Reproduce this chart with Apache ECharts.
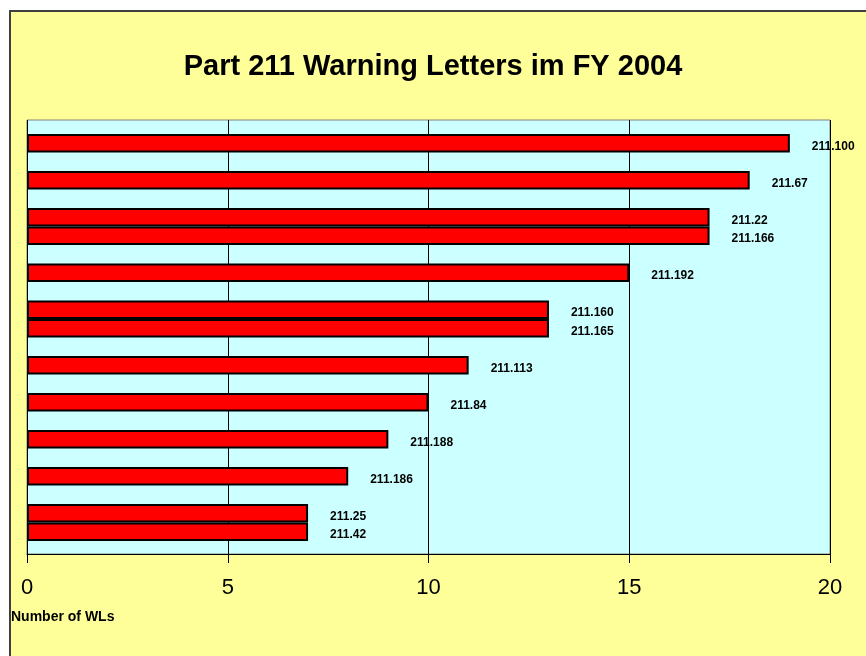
<!DOCTYPE html>
<html>
<head>
<meta charset="utf-8">
<script src="https://cdn.jsdelivr.net/npm/echarts@6/dist/echarts.min.js"></script>
<style>
  html, body { margin: 0; padding: 0; background: #ffffff; }
  #frame {
    position: absolute; left: 9px; top: 10px; width: 870px; height: 660px;
    background: #FFFF99; border-left: 2px solid #404040; border-top: 2px solid #404040;
  }
  #chart { position: absolute; left: 0; top: 0; width: 866px; height: 656px; }
</style>
</head>
<body>
<div id="frame"></div>
<div id="chart"></div>
<script>
// Kategorien von oben nach unten, leere Einträge = Lücken zwischen den Balken
const categories = [
  '211.100', '', '211.67', '', '211.22', '211.166', '', '211.192', '',
  '211.160', '211.165', '', '211.113', '', '211.84', '', '211.188', '',
  '211.186', '', '211.25', '211.42'
];
// Anzahl Warning Letters je Kategorie
const values = [
  19, null, 18, null, 17, 17, null, 15, null,
  13, 13, null, 11, null, 10, null, 9, null,
  8, null, 7, 7
];
const xTicks = { min: 0, max: 20, interval: 5 };

const FONT = '"Liberation Sans", Arial, sans-serif';
const chart = echarts.init(document.getElementById('chart'), null, { renderer: 'canvas' });

const option = {
  backgroundColor: 'transparent',
  animation: false,
  title: [
    {
      text: 'Part 211 Warning Letters im FY 2004',
      left: 'center',
      top: 52,
      padding: 0,
      textStyle: { fontFamily: FONT, fontSize: 29, fontWeight: 'bold', color: '#000' }
    },
    {
      text: 'Number of WLs',
      left: 11,
      top: 610,
      padding: 0,
      textStyle: { fontFamily: FONT, fontSize: 14, fontWeight: 'bold', color: '#000' }
    }
  ],
  grid: [
    // Plotfläche mit Hintergrund und Achse
    { left: 27, right: 36, top: 120, bottom: 102, show: true,
      backgroundColor: '#CCFFFF', borderColor: '#808080', borderWidth: 1 },
    // Balkenbereich (etwas eingerückt oben/unten)
    { left: 27, right: 36, top: 134, bottom: 115 }
  ],
  xAxis: [
    {
      gridIndex: 0, type: 'value',
      min: xTicks.min, max: xTicks.max, interval: xTicks.interval,
      axisLine: { show: true, lineStyle: { color: '#000', width: 1 } },
      axisTick: { show: true, length: 9, lineStyle: { color: '#000' } },
      axisLabel: { margin: 23, fontFamily: FONT, fontSize: 22, color: '#000' },
      splitLine: { show: true, lineStyle: { color: '#000', width: 1 } }
    },
    {
      gridIndex: 1, type: 'value',
      min: xTicks.min, max: xTicks.max,
      show: false, splitLine: { show: false }
    }
  ],
  yAxis: [
    { gridIndex: 0, type: 'value', show: false, splitLine: { show: false } },
    {
      gridIndex: 1, type: 'category', data: categories, inverse: true,
      axisLine: { show: false }, axisTick: { show: false },
      axisLabel: { show: false }, splitLine: { show: false }
    }
  ],
  series: [{
    type: 'bar',
    xAxisIndex: 1,
    yAxisIndex: 1,
    data: values,
    barCategoryGap: '0%',
    itemStyle: { color: '#FF0000', borderColor: '#000', borderWidth: 2 },
    label: {
      show: true,
      position: 'right',
      distance: 22,
      offset: [0, 3],
      formatter: p => (p.value == null ? '' : p.name),
      fontFamily: FONT, fontSize: 12, fontWeight: 'bold', color: '#000'
    }
  }]
};

chart.setOption(option);
</script>
</body>
</html>
